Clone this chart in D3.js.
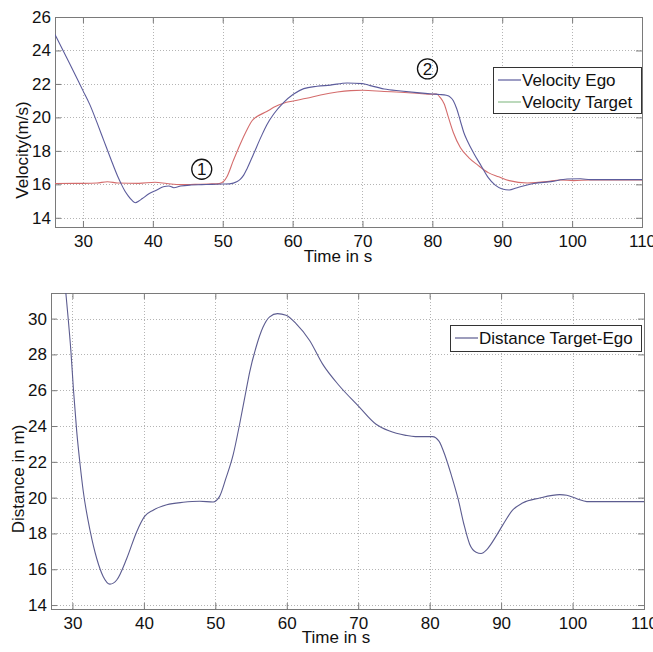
<!DOCTYPE html>
<html>
<head>
<meta charset="utf-8">
<script src="https://cdn.jsdelivr.net/npm/d3@7"></script>
<style>
  html, body { margin: 0; padding: 0; background: #fff; }
  svg { display: block; font-family: "Liberation Sans", Arial, Helvetica, sans-serif; }
</style>
</head>
<body>
<svg id="chart" width="653" height="652"></svg>
<script>
// ---- Velocity plot data ----
const egoTime = [26, 28, 30, 31, 32, 33, 34, 35, 35.5, 36, 36.5, 37, 37.5, 38, 38.5, 39.5, 40.5, 41.5, 42.3, 43, 44, 45.5, 47, 48.5, 50, 51, 52, 52.5, 53, 53.5, 54.4, 55.5, 56.3, 57.3, 58.7, 60.1, 61.6, 63.5, 65.4, 67.8, 70, 71.1, 73.1, 75.5, 77.8, 80, 81, 82, 82.6, 83, 83.5, 84, 84.5, 85, 86, 87, 88, 89, 90, 91, 92, 93, 94.5, 97, 99.3, 101.2, 102.6, 110];
const egoVelocity = [24.95, 23.3, 21.6, 20.75, 19.7, 18.6, 17.5, 16.45, 16.0, 15.6, 15.3, 15.05, 14.9, 15.0, 15.15, 15.45, 15.65, 15.85, 15.9, 15.8, 15.9, 15.96, 15.98, 16.0, 16.02, 16.03, 16.15, 16.3, 16.55, 16.95, 17.8, 18.85, 19.55, 20.2, 20.88, 21.38, 21.72, 21.86, 21.93, 22.06, 22.02, 21.9, 21.7, 21.58, 21.48, 21.4, 21.37, 21.32, 21.2, 21.0, 20.5, 19.8, 19.1, 18.6, 17.8, 17.1, 16.4, 15.95, 15.72, 15.66, 15.78, 15.9, 16.05, 16.16, 16.32, 16.33, 16.28, 16.28];

const targetTime = [26, 30, 32, 33.5, 35, 38, 40.3, 42, 44, 46, 48, 49.5, 50.2, 50.6, 51.5, 52.5, 53.4, 54.2, 54.9, 56.3, 57.3, 58.7, 60.1, 62, 64, 66.4, 68.3, 70, 73.1, 75.5, 77.8, 80, 80.6, 81.1, 81.7, 82.3, 83, 84, 85.2, 86.5, 88, 89.5, 91, 93.6, 96.4, 98.3, 100.2, 102.6, 110];
const targetVelocity = [16.05, 16.06, 16.08, 16.15, 16.08, 16.06, 16.12, 16.05, 15.98, 16.0, 16.02, 16.04, 16.2, 16.45, 17.4, 18.4, 19.2, 19.8, 20.05, 20.35, 20.6, 20.85, 20.98, 21.14, 21.34, 21.52, 21.6, 21.62, 21.55, 21.5, 21.44, 21.38, 21.4, 21.2, 20.8, 20.0, 19.1, 18.2, 17.6, 17.15, 16.7, 16.45, 16.22, 16.08, 16.16, 16.26, 16.22, 16.26, 16.26];

// ---- Distance plot data ----
const distTime = [28.9, 29.2, 29.8, 30.15, 30.6, 31.07, 31.5, 32.5, 33.4, 34.3, 35.25, 36.2, 37.6, 39, 40.1, 41.3, 43.2, 45.5, 47.8, 49.7, 50.6, 51.5, 52.5, 53.4, 54.3, 54.8, 55.7, 56.65, 57.6, 58.7, 59.9, 61.3, 63.2, 65, 67.35, 70, 72.5, 74.3, 76.65, 78, 80.4, 81.3, 82.2, 83, 84, 84.8, 85.6, 86.5, 87.2, 88, 89.3, 90.2, 91.6, 93, 95.4, 98.2, 99.2, 100.6, 102, 110];
const distValue = [32.2, 30.9, 28.1, 26.0, 23.7, 21.85, 20.4, 18.1, 16.6, 15.6, 15.17, 15.4, 16.6, 18.1, 18.95, 19.3, 19.6, 19.74, 19.8, 19.76, 20.07, 21.1, 22.4, 24.1, 25.97, 27.0, 28.4, 29.5, 30.1, 30.28, 30.19, 29.72, 28.78, 27.47, 26.25, 25.13, 24.1, 23.73, 23.48, 23.41, 23.41, 23.16, 22.3, 21.3, 19.9, 18.5, 17.4, 16.95, 16.88, 17.1, 17.85, 18.45, 19.3, 19.7, 19.98, 20.17, 20.13, 19.94, 19.78, 19.78];

// ---- Tick labels ----
const velXTicks = [30, 40, 50, 60, 70, 80, 90, 100, 110];
const velYTicks = [14, 16, 18, 20, 22, 24, 26];
const distXTicks = [30, 40, 50, 60, 70, 80, 90, 100, 110];
const distYTicks = [14, 16, 18, 20, 22, 24, 26, 28, 30];

const velLegend = ["Velocity Ego", "Velocity Target"];
const distLegend = ["Distance Target-Ego"];
const markers = [{ label: "1", t: 47.0, v: 16.9 }, { label: "2", t: 79.3, v: 22.9 }];

const COLORS = {
  ego: "#5c5c9c",
  target: "#d46c6c",
  targetLegend: "#8fbf8f",
  dist: "#5c5c90",
  frame: "#7a7a7a",
  grid: "#b4b4b4"
};

const svg = d3.select("#chart");

function drawPanel(cfg) {
  const x = d3.scaleLinear().domain(cfg.xDomain).range([cfg.left, cfg.right]);
  const y = d3.scaleLinear().domain(cfg.yDomain).range([cfg.bottom, cfg.top]);
  const g = svg.append("g");
  const clipId = "clip-" + cfg.id;
  svg.append("clipPath").attr("id", clipId)
    .append("rect")
    .attr("x", cfg.left).attr("y", cfg.top)
    .attr("width", cfg.right - cfg.left).attr("height", cfg.bottom - cfg.top);

  // dotted grid
  g.append("g").selectAll("line").data(cfg.xTicks).join("line")
    .attr("x1", d => Math.round(x(d)) + 0.5).attr("x2", d => Math.round(x(d)) + 0.5)
    .attr("y1", cfg.top).attr("y2", cfg.bottom)
    .attr("stroke", COLORS.grid).attr("stroke-width", 1).attr("stroke-dasharray", "1,2");
  g.append("g").selectAll("line").data(cfg.yTicks).join("line")
    .attr("y1", d => Math.round(y(d)) + 0.5).attr("y2", d => Math.round(y(d)) + 0.5)
    .attr("x1", cfg.left).attr("x2", cfg.right)
    .attr("stroke", COLORS.grid).attr("stroke-width", 1).attr("stroke-dasharray", "1,2");

  // axes with inward ticks on all four sides
  const tl = 6;
  const bottomAxis = d3.axisBottom(x).tickValues(cfg.xTicks).tickSizeInner(-tl).tickSizeOuter(0).tickPadding(8);
  const topAxis = d3.axisTop(x).tickValues(cfg.xTicks).tickSizeInner(-tl).tickSizeOuter(0).tickFormat("");
  const leftAxis = d3.axisLeft(y).tickValues(cfg.yTicks).tickSizeInner(-tl).tickSizeOuter(0).tickPadding(4);
  const rightAxis = d3.axisRight(y).tickValues(cfg.yTicks).tickSizeInner(-tl).tickSizeOuter(0).tickFormat("");

  const axes = [
    g.append("g").attr("transform", `translate(0,${cfg.bottom})`).call(bottomAxis),
    g.append("g").attr("transform", `translate(0,${cfg.top})`).call(topAxis),
    g.append("g").attr("transform", `translate(${cfg.left},0)`).call(leftAxis),
    g.append("g").attr("transform", `translate(${cfg.right},0)`).call(rightAxis)
  ];
  axes.forEach(a => {
    a.select(".domain").remove();
    a.selectAll(".tick line").attr("stroke", COLORS.frame);
    a.selectAll(".tick text").attr("fill", "#111").style("font-size", "17px")
      .style("font-family", "'Liberation Sans', Arial, sans-serif");
  });
  axes[0].selectAll(".tick text").attr("dy", "0.71em");

  // frame
  g.append("rect")
    .attr("x", cfg.left + 0.5).attr("y", cfg.top + 0.5)
    .attr("width", cfg.right - cfg.left).attr("height", cfg.bottom - cfg.top)
    .attr("fill", "none").attr("stroke", COLORS.frame).attr("stroke-width", 1);

  // data lines
  const line = d3.line().x(d => x(d[0])).y(d => y(d[1])).curve(d3.curveMonotoneX);
  const lines = g.append("g").attr("clip-path", `url(#${clipId})`);
  cfg.series.forEach(s => {
    lines.append("path")
      .datum(d3.zip(s.t, s.v))
      .attr("d", line)
      .attr("fill", "none")
      .attr("stroke", s.color)
      .attr("stroke-width", 1.1);
  });

  // axis labels
  g.append("text")
    .attr("x", cfg.xLabelX).attr("y", cfg.xLabelY)
    .attr("text-anchor", "middle").attr("fill", "#111").style("font-size", "17px")
    .text("Time in s");
  g.append("text")
    .attr("transform", `translate(${cfg.yLabelX},${cfg.yLabelY}) rotate(-90)`)
    .attr("text-anchor", "middle").attr("dy", "0.35em").attr("fill", "#111").style("font-size", "17px")
    .text(cfg.yLabel);

  // legend
  const lg = cfg.legend;
  g.append("rect")
    .attr("x", lg.x + 0.5).attr("y", lg.y + 0.5).attr("width", lg.w).attr("height", lg.h)
    .attr("fill", "#fff").attr("stroke", "#333").attr("stroke-width", 1);
  lg.items.forEach((item, i) => {
    const cy = lg.y + lg.firstRow + i * lg.rowGap;
    g.append("line")
      .attr("x1", lg.x + 5).attr("x2", lg.x + 28)
      .attr("y1", cy).attr("y2", cy)
      .attr("stroke", item.color).attr("stroke-width", 1.2);
    g.append("text")
      .attr("x", lg.x + 29).attr("y", cy).attr("dy", "0.35em")
      .attr("fill", "#111").style("font-size", "17px")
      .text(item.label);
  });

  return { x, y, g };
}

// Velocity panel
const velPanel = drawPanel({
  id: "vel",
  left: 55, right: 642, top: 17, bottom: 227,
  xDomain: [26, 110], yDomain: [13.45, 26],
  xTicks: velXTicks, yTicks: velYTicks,
  series: [
    { t: targetTime, v: targetVelocity, color: COLORS.target },
    { t: egoTime, v: egoVelocity, color: COLORS.ego }
  ],
  xLabelX: 338, xLabelY: 262,
  yLabelX: 22, yLabelY: 150, yLabel: "Velocity(m/s)",
  legend: {
    x: 493, y: 67, w: 148, h: 46, firstRow: 13, rowGap: 22,
    items: [
      { label: velLegend[0], color: COLORS.ego },
      { label: velLegend[1], color: COLORS.targetLegend }
    ]
  }
});

// numbered event markers
markers.forEach(m => {
  const cx = velPanel.x(m.t), cy = velPanel.y(m.v);
  velPanel.g.append("circle").attr("cx", cx).attr("cy", cy).attr("r", 10)
    .attr("fill", "none").attr("stroke", "#111").attr("stroke-width", 1.3);
  velPanel.g.append("text").attr("x", cx).attr("y", cy).attr("dy", "0.36em")
    .attr("text-anchor", "middle").attr("fill", "#111").style("font-size", "17px")
    .text(m.label);
});

// Distance panel
drawPanel({
  id: "dist",
  left: 51, right: 644, top: 293, bottom: 609,
  xDomain: [27, 110], yDomain: [13.78, 31.43],
  xTicks: distXTicks, yTicks: distYTicks,
  series: [
    { t: distTime, v: distValue, color: COLORS.dist }
  ],
  xLabelX: 336, xLabelY: 643,
  yLabelX: 18, yLabelY: 479, yLabel: "Distance in m)",
  legend: {
    x: 450, y: 325, w: 191, h: 26, firstRow: 13, rowGap: 22,
    items: [
      { label: distLegend[0], color: COLORS.dist }
    ]
  }
});
</script>
</body>
</html>
